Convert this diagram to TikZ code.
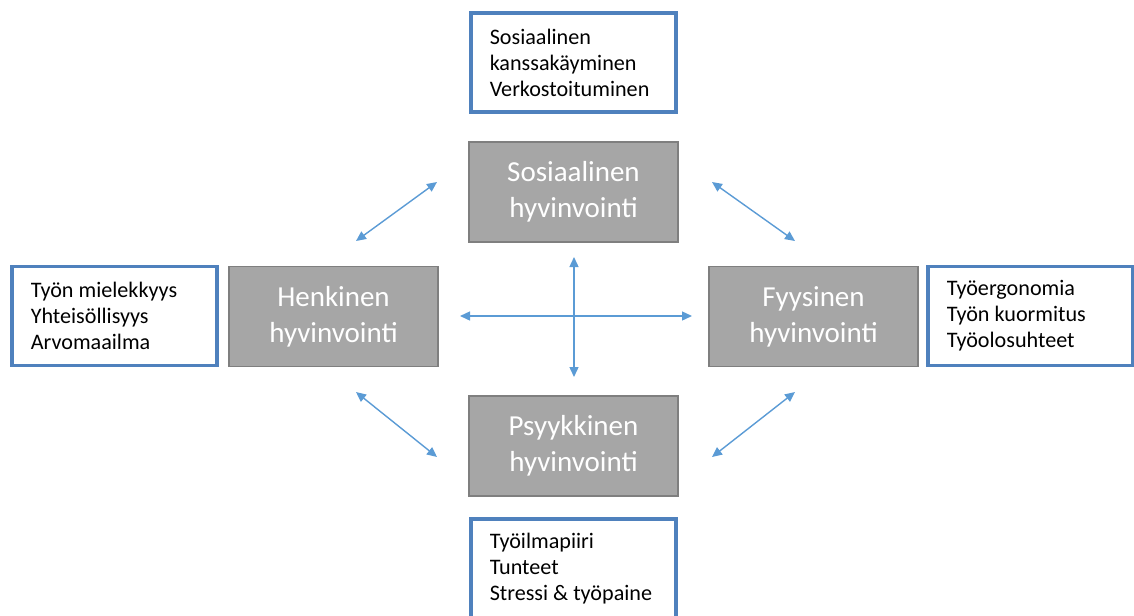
\documentclass[tikz,border=0pt]{standalone}
\usepackage{fontspec}
\setmainfont{Carlito}
\usetikzlibrary{arrows.meta}
\definecolor{boxgray}{HTML}{A6A6A6}
\definecolor{edgegray}{HTML}{7F7F7F}
\definecolor{frameblue}{HTML}{4F81BD}
\definecolor{arrowblue}{HTML}{5B9BD5}
\tikzstyle{block} = [rectangle, draw=edgegray, fill=boxgray, line width=0.7pt,
text=white, align=center, minimum width=4.18cm, minimum height=2cm,
font=\fontsize{16.5}{20.5}\selectfont]
\tikzstyle{frame} = [rectangle, draw=frameblue, line width=2.2pt, fill=white,
text width=3.35cm, align=flush left, inner xsep=0.37cm, minimum height=1.98cm,
font=\fontsize{12.6}{14.8}\selectfont]
\tikzstyle{line} = [draw=arrowblue, line width=0.8pt,
{Triangle[length=0.2cm,width=0.18cm]}-{Triangle[length=0.2cm,width=0.18cm]}]

\begin{document}
\begin{tikzpicture}[x=0.02cm, y=-0.02cm]
\useasboundingbox (0,0) rectangle (1134,616);
% Place nodes
\node [block] (sosiaalinen) at (573.5,192) {Sosiaalinen\\hyvinvointi};
\node [block] (henkinen) at (333.5,316.5) {Henkinen\\hyvinvointi};
\node [block] (fyysinen) at (813.5,316.5) {Fyysinen\\hyvinvointi};
\node [block] (psyykkinen) at (573.5,446) {Psyykkinen\\hyvinvointi};
\node [frame] (sosiaalinentxt) at (573.5,62.5) {Sosiaalinen\\kanssakäyminen\\Verkostoituminen};
\node [frame] (henkinentxt) at (114.5,316) {Työn mielekkyys\\Yhteisöllisyys\\Arvomaailma};
\node [frame] (fyysinentxt) at (1030.5,316) {Työergonomia\\Työn kuormitus\\Työolosuhteet};
\node [frame] (psyykkinentxt) at (573.5,568.5) {Työilmapiiri\\Tunteet\\Stressi \& työpaine};
% Arrow ends
\coordinate (hs1) at (356,241);
\coordinate (hs2) at (437,182);
\coordinate (sf1) at (712,182);
\coordinate (sf2) at (795,241);
\coordinate (hp1) at (356,392);
\coordinate (hp2) at (437,457);
\coordinate (pf1) at (712,457);
\coordinate (pf2) at (795,392);
\coordinate (left) at (460,316);
\coordinate (right) at (692,316);
\coordinate (top) at (574,257);
\coordinate (bottom) at (574,377);
\path [line] (hs1) -- (hs2);
\path [line] (sf1) -- (sf2);
\path [line] (hp1) -- (hp2);
\path [line] (pf1) -- (pf2);
\path [line] (left) -- (right);
\path [line] (top) -- (bottom);
\end{tikzpicture}
\end{document}
